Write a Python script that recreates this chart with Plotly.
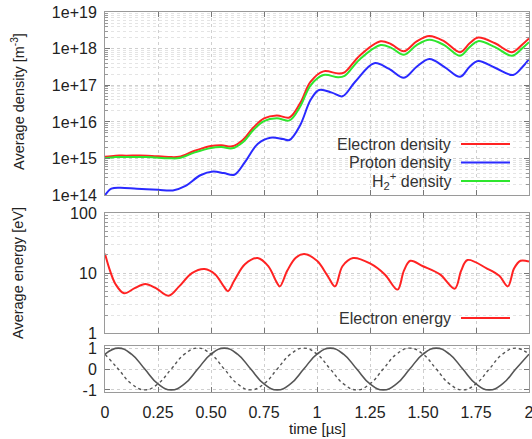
import plotly.graph_objects as go

# ---------------- data ----------------
# top panel: average densities (m^-3) vs time (us)
t_red = [0, 0.05, 0.1, 0.2, 0.3, 0.35, 0.42, 0.5, 0.55, 0.6, 0.65, 0.7, 0.75, 0.81, 0.87,
         0.92, 0.97, 1.03, 1.1, 1.13, 1.2, 1.3, 1.35, 1.41, 1.47, 1.53, 1.6, 1.675, 1.72,
         1.76, 1.84, 1.92, 1.97, 2.0]
electron_density = [1.12e15, 1.2e15, 1.2e15, 1.2e15, 1.1e15, 1.12e15, 1.6e15, 2.2e15, 2.3e15,
                    2.15e15, 3.2e15, 7e15, 1.25e16, 1.5e16, 1.32e16, 3.2e16, 1.25e17, 2.4e17,
                    2.1e17, 2.25e17, 6.3e17, 1.58e18, 1.32e18, 8.5e17, 1.58e18, 2.2e18, 1.58e18,
                    8e17, 1.4e18, 2.0e18, 1.4e18, 8e17, 1.32e18, 1.9e18]
h2_density = [1.02e15, 1.1e15, 1.1e15, 1.1e15, 1.02e15, 1.03e15, 1.45e15, 1.95e15, 2.05e15,
              1.9e15, 2.8e15, 6e15, 1.05e16, 1.25e16, 1.1e16, 2.6e16, 1.0e17, 1.9e17,
              1.65e17, 1.8e17, 5e17, 1.25e18, 1.05e18, 6.8e17, 1.25e18, 1.75e18, 1.25e18,
              6.4e17, 1.1e18, 1.6e18, 1.1e18, 6.4e17, 1.05e18, 1.5e18]
t_blue = [0, 0.03, 0.07, 0.15, 0.25, 0.32, 0.38, 0.45, 0.51, 0.56, 0.61, 0.66, 0.72, 0.78,
          0.84, 0.87, 0.92, 0.97, 1.01, 1.07, 1.12, 1.18, 1.27, 1.34, 1.41, 1.47, 1.53, 1.6,
          1.675, 1.72, 1.76, 1.84, 1.925, 1.97, 2.0]
proton_density = [1.0e14, 1.5e14, 1.6e14, 1.5e14, 1.4e14, 1.35e14, 1.8e14, 3.5e14, 4.4e14,
                  4.0e14, 3.6e14, 8e14, 2.5e15, 3.7e15, 3.4e15, 3.2e15, 8e15, 4e16, 7.4e16,
                  6.3e16, 5e16, 1.25e17, 4e17, 2.8e17, 1.6e17, 3.2e17, 5.2e17, 3.2e17,
                  1.7e17, 3.2e17, 4.6e17, 3.0e17, 1.9e17, 3.2e17, 5.2e17]

# middle panel: average electron energy (eV)
t_energy = [0, 0.02, 0.05, 0.09, 0.14, 0.19, 0.24, 0.3, 0.35, 0.41, 0.47, 0.52, 0.56, 0.58,
            0.61, 0.66, 0.72, 0.77, 0.81, 0.825, 0.86, 0.9, 0.94, 1.0, 1.05, 1.085, 1.12,
            1.17, 1.25, 1.32, 1.38, 1.41, 1.44, 1.5, 1.58, 1.65, 1.68, 1.71, 1.8, 1.86, 1.9,
            1.93, 1.96, 2.0]
electron_energy = [21, 12, 6.5, 4.6, 5.6, 6.6, 5.6, 4.2, 6, 10, 11.7, 9.5, 6, 5, 7.5, 14,
                   17.8, 13, 7, 6, 11, 18, 20.7, 16, 9, 6, 13, 17.8, 14.5, 9.5, 5.3, 11, 16,
                   13, 9.5, 5.5, 11, 16.5, 12, 9, 6, 12, 16, 15.5]

# bottom panel: normalised waveforms
t_wave = [0, 0.0625, 0.125, 0.1875, 0.25, 0.3125, 0.375, 0.4375, 0.5, 0.5625, 0.625, 0.6875,
          0.75, 0.8125, 0.875, 0.9375, 1.0, 1.0625, 1.125, 1.1875, 1.25, 1.3125, 1.375,
          1.4375, 1.5, 1.5625, 1.625, 1.6875, 1.75, 1.8125, 1.875, 1.9375, 2.0]
wave_solid = [0.71, 1, 0.71, 0, -0.71, -1, -0.71, 0, 0.71, 1, 0.71, 0, -0.71, -1, -0.71, 0,
              0.71, 1, 0.71, 0, -0.71, -1, -0.71, 0, 0.71, 1, 0.71, 0, -0.71, -1, -0.71, 0, 0.71]
wave_dashed = [0.71, 0, -0.71, -1, -0.71, 0, 0.71, 1, 0.71, 0, -0.71, -1, -0.71, 0, 0.71, 1,
               0.71, 0, -0.71, -1, -0.71, 0, 0.71, 1, 0.71, 0, -0.71, -1, -0.71, 0, 0.71, 1, 0.71]

x_tickvals = [0, 0.25, 0.5, 0.75, 1, 1.25, 1.5, 1.75, 2]
x_ticktext = ["0", "0.25", "0.50", "0.75", "1", "1.25", "1.50", "1.75", "2"]
dens_tickvals = [1e14, 1e15, 1e16, 1e17, 1e18, 1e19]
dens_ticktext = ["1e+14", "1e+15", "1e+16", "1e+17", "1e+18", "1e+19"]
en_tickvals = [1, 10, 100]
en_ticktext = ["1", "10", "100"]
wave_tickvals = [-1, 0, 1]
wave_ticktext = ["-1", "0", "1"]
minor_digits = [2, 3, 4, 5, 6, 7, 8, 9]

legend_dens = ["Electron density", "Proton density", "H<sub>2</sub><sup>+</sup> density"]
legend_energy = "Electron energy"

RED = "#ff2222"
BLUE = "#2a2aff"
GREEN = "#2ee62e"
GREY = "#555555"
FONT = "Liberation Sans, Arial, Helvetica, sans-serif"

dens_minor = [d * 10.0 ** e for e in range(14, 19) for d in minor_digits]
en_minor = [d * 10.0 ** e for e in range(0, 2) for d in minor_digits]

W, H = 532, 439
PL, PR, PT, PB = 105, 529, 12, 392   # plot-area edges in window pixels

fig = go.Figure()
sp = dict(shape="spline", smoothing=1.0)
fig.add_trace(go.Scatter(x=t_red, y=electron_density, mode="lines", line=dict(color=RED, width=2, **sp), xaxis="x", yaxis="y"))
fig.add_trace(go.Scatter(x=t_blue, y=proton_density, mode="lines", line=dict(color=BLUE, width=2, **sp), xaxis="x", yaxis="y"))
fig.add_trace(go.Scatter(x=t_red, y=h2_density, mode="lines", line=dict(color=GREEN, width=2, **sp), xaxis="x", yaxis="y"))
fig.add_trace(go.Scatter(x=t_energy, y=electron_energy, mode="lines", line=dict(color=RED, width=2, **sp), xaxis="x2", yaxis="y2"))
fig.add_trace(go.Scatter(x=t_wave, y=wave_solid, mode="lines", line=dict(color=GREY, width=1.6, shape="spline", smoothing=1.3), xaxis="x3", yaxis="y3"))
fig.add_trace(go.Scatter(x=t_wave, y=wave_dashed, mode="lines", line=dict(color=GREY, width=1.4, dash="3px,3px", shape="spline", smoothing=1.3), xaxis="x3", yaxis="y3"))

frame = dict(showline=True, linecolor="#9a9a9a", linewidth=1, mirror="ticks",
             ticks="inside", ticklen=5, tickcolor="#777777", tickwidth=1,
             showgrid=True, gridcolor="#cfcfcf", griddash="dot", gridwidth=1,
             zeroline=False, automargin=False, ticklabeloverflow="allow",
             tickfont=dict(family=FONT, size=16, color="#222222"))

xcommon = dict(frame, range=[0, 2], tickmode="array", tickvals=x_tickvals,
               ticktext=x_ticktext, domain=[0, 1])

def minor_cfg(vals):
    return dict(tickmode="array", tickvals=vals, ticks="inside", ticklen=3,
                tickcolor="#999999", showgrid=True, gridcolor="#e4e4e4", griddash="dot")

fig.update_layout(
    width=W, height=H,
    margin=dict(l=PL, r=W - PR, t=PT, b=H - PB, autoexpand=False),
    paper_bgcolor="white", plot_bgcolor="white",
    showlegend=False,
    font=dict(family=FONT, color="#222222"),
    xaxis=dict(xcommon, anchor="y", showticklabels=False),
    xaxis2=dict(xcommon, anchor="y2", showticklabels=False),
    xaxis3=dict(xcommon, anchor="y3", showticklabels=True, ticklabelstandoff=6),
    yaxis=dict(frame, type="log", range=[14, 19], domain=[0.518, 1.0], anchor="x",
               tickmode="array", tickvals=dens_tickvals, ticktext=dens_ticktext,
               minor=minor_cfg(dens_minor), ticklabelstandoff=4),
    yaxis2=dict(frame, type="log", range=[0, 2], domain=[0.155, 0.471], anchor="x2",
                tickmode="array", tickvals=en_tickvals, ticktext=en_ticktext,
                minor=minor_cfg(en_minor), ticklabelstandoff=4),
    yaxis3=dict(frame, range=[-1.1, 1.1], domain=[0, 0.121], anchor="x3",
                tickmode="array", tickvals=wave_tickvals, ticktext=wave_ticktext,
                ticklabelstandoff=4),
)

def px_x(p):
    return (p - PL) / float(PR - PL)

def px_y(p):
    return (PB - p) / float(PB - PT)

annots = []
shapes = []
leg_rows = [(legend_dens[0], RED, 144), (legend_dens[1], BLUE, 162.5), (legend_dens[2], GREEN, 181),
            (legend_energy, RED, 318)]
for text, col, ypx in leg_rows:
    annots.append(dict(text=text, xref="paper", yref="paper", x=px_x(453), y=px_y(ypx),
                       xanchor="right", yanchor="middle", showarrow=False,
                       font=dict(family=FONT, size=16, color="#333333")))
    shapes.append(dict(type="line", xref="paper", yref="paper", x0=px_x(461), x1=px_x(510),
                       y0=px_y(ypx), y1=px_y(ypx), line=dict(color=col, width=2)))

annots.append(dict(text="Average density [m<sup>-3</sup>]", xref="paper", yref="paper",
                   x=px_x(18), y=px_y(102), textangle=-90, showarrow=False,
                   xanchor="center", yanchor="middle",
                   font=dict(family=FONT, size=14.5, color="#222222")))
annots.append(dict(text="Average energy [eV]", xref="paper", yref="paper",
                   x=px_x(18), y=px_y(273), textangle=-90, showarrow=False,
                   xanchor="center", yanchor="middle",
                   font=dict(family=FONT, size=14.5, color="#222222")))
annots.append(dict(text="time [µs]", xref="paper", yref="paper",
                   x=px_x(317), y=px_y(428), showarrow=False,
                   xanchor="center", yanchor="middle",
                   font=dict(family=FONT, size=15, color="#222222")))

fig.update_layout(annotations=annots, shapes=shapes)

# remove the page's default 8px body margin so the figure sits at the window origin
fig.write_html("out.html", config={"displayModeBar": False},
               post_script="document.body.style.margin='0px';")
